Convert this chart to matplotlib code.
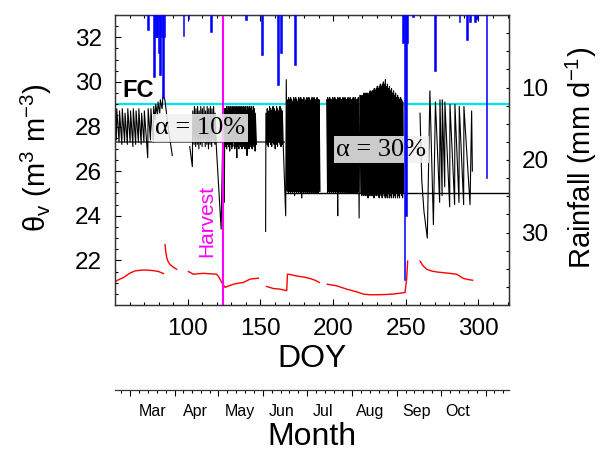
import numpy as np
import matplotlib
matplotlib.use("Agg")
import matplotlib.pyplot as plt

plt.rcParams['font.family'] = ['Liberation Sans', 'DejaVu Sans']
plt.rcParams['mathtext.fontset'] = 'custom'
plt.rcParams['mathtext.rm'] = 'Liberation Sans'
plt.rcParams['mathtext.it'] = 'Liberation Sans:italic'
plt.rcParams['mathtext.default'] = 'rm'

# ---------------- data ----------------
# soil moisture (black) - segments separated by gaps
black_A = [(50.0, 28.1), (50.9, 27.4), (51.2, 28.8), (52.8, 27.3), (53.1, 28.7), (54.7, 27.2), (55.0, 28.8),
           (56.6, 27.3), (56.9, 28.6), (58.5, 27.2), (58.8, 28.8), (60.4, 27.3), (60.7, 28.7), (62.3, 27.1),
           (62.6, 28.8), (64.2, 27.2), (64.5, 28.7), (66.1, 27.3), (66.4, 28.8), (68.0, 27.2), (68.3, 28.6),
           (69.9, 27.3), (70.2, 28.7), (71.4, 27.6), (72.5, 26.6), (72.8, 28.8), (74.4, 27.4), (74.7, 28.8),
           (76.3, 27.3), (76.6, 28.9), (77.6, 28.3), (78.0, 29.0), (79.2, 28.5), (79.6, 29.1), (80.8, 28.6),
           (81.2, 29.2), (82.4, 28.8), (83.0, 29.4), (84.3, 29.2), (86.5, 28.0), (89.4, 26.7)]
black_C = [(101.4, 27.1), (103.2, 26.2), (103.5, 28.7), (104.4, 27.2), (104.6, 28.9), (105.5, 27.1), (105.7, 28.8),
           (106.6, 27.2), (106.8, 28.9), (107.7, 27.0), (107.9, 28.7), (108.8, 27.2), (109.0, 28.9), (109.9, 27.1),
           (110.1, 28.8), (111.0, 27.3), (111.2, 28.9), (112.1, 27.1), (112.3, 28.7), (113.2, 27.2), (113.4, 28.9),
           (114.3, 27.0), (114.5, 28.8), (115.4, 27.2), (115.6, 28.9), (116.5, 27.1), (116.7, 28.8), (117.6, 27.3),
           (117.8, 28.9), (118.7, 27.2), (118.9, 28.6), (119.6, 27.2), (123.0, 23.4), (124.1, 27.4), (124.4, 28.6),
           (125.2, 24.6), (125.5, 28.8),
           (126.1, 27.1), (126.2, 28.8), (126.8, 27.0), (126.9, 28.9), (127.5, 27.2), (127.6, 28.7), (128.2, 27.1),
           (128.3, 28.9), (128.9, 26.9), (129.0, 28.8), (129.6, 27.2), (129.7, 28.9), (130.3, 27.0), (130.4, 28.7),
           (131.0, 27.1), (131.1, 28.9), (131.7, 27.3), (131.8, 28.8), (132.4, 27.0), (132.5, 28.9), (133.1, 27.1),
           (133.2, 28.7), (133.8, 26.6), (133.9, 28.9), (134.5, 27.1), (134.6, 28.8), (135.2, 27.0), (135.3, 28.9),
           (135.9, 27.2), (136.0, 28.8), (136.6, 27.1), (136.7, 28.9), (137.3, 27.0), (137.4, 28.7), (138.0, 27.2),
           (138.1, 28.9), (138.7, 27.1), (138.8, 28.8), (139.4, 27.0), (139.5, 28.9), (140.1, 27.2), (140.2, 28.7),
           (140.8, 26.7), (140.9, 28.9), (141.5, 27.1), (141.6, 28.8), (142.2, 27.0), (142.3, 28.9), (142.9, 27.2),
           (143.0, 28.8), (143.6, 27.1), (143.7, 28.9), (144.3, 27.0), (144.4, 28.7), (145.0, 27.2), (145.1, 28.9),
           (145.7, 27.1), (145.8, 28.8), (146.4, 26.9), (146.5, 28.6), (147.3, 27.2)]
black_G = [(153.6, 23.3), (153.8, 28.6), (154.6, 27.2), (154.7, 28.8), (155.4, 27.1), (155.5, 28.7), (156.2, 27.3),
           (156.3, 28.9), (157.0, 27.2), (157.1, 28.8), (157.8, 27.1), (157.9, 28.7), (158.6, 27.3), (158.7, 28.9),
           (159.4, 27.2), (159.5, 28.8), (160.2, 27.0), (160.3, 28.7), (161.0, 27.2), (161.1, 28.9), (161.8, 27.1),
           (161.9, 28.8), (162.6, 27.3), (162.7, 28.7), (163.4, 27.2), (163.5, 28.9), (164.2, 27.1), (164.3, 28.8),
           (165.0, 27.2), (165.1, 28.7), (165.7, 27.2), (167.4, 24.0), (167.8, 30.1), (168.5, 25.1),
           (168.6, 29.2), (169.3, 25.0), (169.4, 29.3), (170.0, 25.1), (170.1, 29.2), (170.7, 25.0), (170.8, 29.3),
           (171.4, 25.1), (171.5, 29.2), (172.1, 25.0), (172.2, 29.1), (172.8, 25.1), (172.9, 29.3), (173.5, 24.9),
           (173.6, 29.2), (174.2, 25.1), (174.3, 29.3), (174.9, 25.0), (175.0, 29.2), (175.6, 25.1), (175.7, 29.1),
           (176.3, 25.0), (176.4, 29.3), (177.0, 25.1), (177.1, 29.2), (177.7, 25.0), (177.8, 29.3), (178.4, 24.8),
           (178.5, 29.2), (179.1, 25.1), (179.2, 29.2), (179.8, 25.0), (179.9, 29.3), (180.5, 25.1), (180.6, 29.1),
           (181.2, 25.0), (181.3, 29.2), (181.9, 25.1), (182.0, 29.3), (182.6, 25.0), (182.7, 29.2), (183.3, 25.1),
           (183.4, 29.3), (184.0, 25.0), (184.1, 29.2), (184.7, 25.1), (184.8, 29.1), (185.4, 25.0), (185.5, 29.3),
           (186.1, 25.1), (186.2, 29.2), (186.8, 25.0), (186.9, 29.3), (187.5, 25.1), (187.6, 29.2), (188.2, 25.0),
           (188.3, 29.2), (188.9, 25.1), (189.0, 29.3), (189.6, 25.0), (189.7, 29.2), (190.3, 25.1), (190.4, 29.2),
           (191.0, 25.1)]
black_J = [(195.6, 29.2), (196.2, 25.0), (196.3, 29.3), (196.9, 25.1), (197.0, 29.2), (197.6, 25.0), (197.7, 29.3),
           (198.3, 25.1), (198.4, 29.2), (199.0, 25.0), (199.1, 29.2), (199.7, 25.1), (199.8, 29.3), (200.4, 25.0),
           (200.5, 29.2), (201.1, 25.1), (201.2, 29.3), (201.8, 25.0), (201.9, 29.2), (202.5, 25.1), (202.6, 29.2),
           (203.2, 24.0), (203.3, 29.3), (203.9, 25.0), (204.0, 29.2), (204.6, 25.1), (204.7, 29.3), (205.3, 25.0),
           (205.4, 29.2), (206.0, 25.1), (206.1, 29.2), (206.7, 25.0), (206.8, 29.3), (207.4, 25.1), (207.5, 29.2),
           (208.1, 25.0), (208.2, 29.3), (208.8, 25.1), (208.9, 29.2), (209.5, 25.0), (209.6, 29.2), (210.2, 25.1),
           (210.3, 29.3), (210.9, 25.0), (211.0, 29.2), (211.6, 25.1), (211.7, 29.3), (212.3, 25.0), (212.4, 29.2),
           (213.0, 25.1), (213.1, 29.2), (213.7, 25.0), (213.8, 29.3), (214.4, 25.1), (214.5, 29.2), (215.1, 25.0),
           (215.2, 29.3), (215.8, 25.1), (215.9, 29.2), (216.5, 25.0), (216.6, 29.2), (217.2, 25.1), (217.3, 29.3),
           (217.9, 23.9),
           (218.4, 29.4), (219.1, 25.0), (219.2, 29.4), (219.8, 24.9), (219.9, 29.3), (220.5, 25.0), (220.6, 29.4),
           (221.2, 24.9), (221.3, 29.5), (221.9, 25.0), (222.0, 29.4), (222.6, 24.9), (222.7, 29.5), (223.3, 25.0),
           (223.4, 29.5), (224.0, 24.8), (224.1, 29.4), (224.7, 25.0), (224.8, 29.5), (225.4, 24.9), (225.5, 29.6),
           (226.1, 25.0), (226.2, 29.5), (226.8, 24.9), (226.9, 29.6), (227.5, 25.0), (227.6, 29.6), (228.2, 24.8),
           (228.3, 29.7), (228.9, 25.0), (229.0, 29.6), (229.6, 24.9), (229.7, 29.7), (230.3, 25.0), (230.4, 29.8),
           (231.0, 24.9), (231.1, 29.7), (231.7, 24.8), (231.8, 29.8), (232.4, 25.0), (232.5, 29.9), (233.1, 24.9),
           (233.2, 29.8), (233.8, 24.8), (233.9, 29.9), (234.5, 25.0), (234.6, 30.0), (235.2, 24.9), (235.3, 29.9),
           (235.9, 24.8), (236.0, 30.1), (236.6, 24.9), (236.7, 29.8), (237.3, 24.8), (237.4, 29.9), (238.0, 25.0),
           (238.1, 29.7), (238.7, 24.8), (238.8, 29.8), (239.4, 24.9), (239.5, 29.6), (240.1, 24.8), (240.2, 29.7),
           (240.8, 25.0), (240.9, 29.5), (241.5, 24.8), (241.6, 29.6), (242.2, 24.9), (242.3, 29.4), (242.9, 24.8),
           (243.0, 29.5), (243.6, 25.0), (243.7, 29.3), (244.3, 24.8), (244.4, 29.4), (245.0, 24.9), (245.1, 29.3),
           (245.7, 24.8), (245.8, 29.2), (246.4, 25.0), (246.5, 29.3), (247.1, 24.9), (247.2, 29.2), (247.8, 24.8),
           (247.9, 29.1), (248.4, 25.0)]
black_L = [(259.8, 28.6), (261.0, 25.6), (262.5, 24.2), (264.8, 23.0), (266.6, 29.6), (269.0, 23.6), (270.4, 29.1),
           (273.3, 24.6), (273.5, 29.2), (275.0, 24.9), (275.1, 29.2), (276.8, 25.3), (276.9, 29.1), (280.2, 24.4),
           (280.4, 29.0), (283.6, 24.5), (283.8, 29.0), (286.6, 24.6), (286.8, 28.9), (289.8, 24.5), (290.0, 28.9),
           (294.2, 24.5), (295.3, 28.7), (295.8, 26.0)]

# soil moisture (red)
red_A = [(50.0, 21.04), (52.0, 21.12), (55.8, 21.23), (60.0, 21.42), (63.8, 21.53), (69.5, 21.57), (73.0, 21.56),
         (76.4, 21.54), (80.0, 21.50), (83.3, 21.41)]
red_B = [(84.4, 22.71), (85.0, 22.35), (85.6, 22.12), (86.5, 21.95), (87.8, 21.82), (90.0, 21.70), (92.4, 21.60)]
red_C = [(100.5, 21.50), (102.0, 21.45), (103.9, 21.38), (107.0, 21.40), (110.8, 21.42), (115.0, 21.40),
         (119.9, 21.38), (121.5, 21.25), (123.4, 21.01), (125.7, 20.79), (128.0, 20.85), (131.4, 20.93),
         (135.0, 20.98), (138.3, 21.01), (142.9, 21.16), (145.5, 21.18), (148.6, 21.20)]
red_D = [(154.3, 20.83), (158.9, 20.74), (163.5, 20.71), (168.1, 20.64), (168.6, 21.38), (169.5, 21.38),
         (175.0, 21.30), (180.0, 21.25), (184.1, 21.19), (188.0, 21.10), (190.6, 21.01)]
red_E = [(196.1, 20.93), (202.5, 20.86), (209.4, 20.71), (216.2, 20.59), (220.8, 20.49), (225.0, 20.46),
         (230.0, 20.46), (236.0, 20.47), (241.4, 20.49), (249.5, 20.56), (250.6, 21.16), (251.3, 21.97)]
red_F = [(259.8, 21.97), (262.0, 21.75), (264.4, 21.60), (268.0, 21.52), (271.3, 21.48), (275.8, 21.45),
         (280.0, 21.42), (285.0, 21.38), (287.0, 21.30), (289.6, 21.19), (293.0, 21.14), (296.0, 21.11)]

# rainfall
rain_doy = [72.5, 77, 78, 79, 80, 81, 82, 83, 84, 97, 100.5, 116, 140, 151, 162, 164, 174,
            248, 249, 250, 251, 255, 270, 287, 292, 294, 297.5, 299, 305.5]
rain_mm = [2.1, 8.5, 3.0, 3.0, 5.3, 8.3, 3.0, 11.5, 3.0, 2.9, 0.6, 2.3, 0.7, 5.5, 9.7, 5.3, 6.9,
           3.8, 36.5, 27.7, 3.8, 0.3, 7.7, 0.9, 3.4, 0.9, 0.9, 0.5, 22.5]

fc_value = 29.0
thr10_value = 27.3
thr10_span = (50, 167)
thr30_value = 25.0
thr30_span = (167, 321)
harvest_doy = 124.5

xticks = [100, 150, 200, 250, 300]
yticks = [22, 24, 26, 28, 30, 32]
rticks = [10, 20, 30]
month_starts = [32, 60, 91, 121, 152, 182, 213, 244, 274, 305, 335]
month_names = ['Mar', 'Apr', 'May', 'Jun', 'Jul', 'Aug', 'Sep', 'Oct']
month_label_pos = [75.9, 105.0, 136.0, 164.6, 193.3, 225.4, 257.5, 285.4]


def join(*segs):
    xs, ys = [], []
    for s in segs:
        xs += [p[0] for p in s] + [np.nan]
        ys += [p[1] for p in s] + [np.nan]
    return np.array(xs), np.array(ys)


# ---------------- figure ----------------
W, H = 600, 453
fig = plt.figure(figsize=(W / 100, H / 100), dpi=100)
L, R, T, B = 115, 509, 15, 305
ax = fig.add_axes([L / W, 1 - B / H, (R - L) / W, (B - T) / H])
ax.set_xlim(50, 321)
ax.set_ylim(20.0, 33.0)

ax.axhline(fc_value, color='#00e5ee', lw=1.6, zorder=1)
ax.hlines(thr10_value, *thr10_span, color='#505050', lw=1.2, zorder=2)
ax.hlines(thr30_value, *thr30_span, color='black', lw=1.0, zorder=2)

bx, by = join(black_A, black_C, black_G, black_J, black_L)
ax.plot(bx, by, color='black', lw=0.8, zorder=3)
rx, ry = join(red_A, red_B, red_C, red_D, red_E, red_F)
ax.plot(rx, ry, color='red', lw=1.0, zorder=3)

ax.axvline(harvest_doy, color='#ff00ff', lw=1.5, zorder=4)
ax.text(113.4, 23.76, 'Harvest', color='#ff00ff', rotation=90, ha='center', va='center', fontsize=15)
ax.text(55.3, 29.1, 'FC', fontsize=17, fontweight='bold', ha='left', va='bottom')
box = dict(boxstyle='square,pad=0.1', facecolor='#f0f0f0', edgecolor='none', alpha=0.85)
ax.text(108.6, 27.93, 'α = 10%', family='Liberation Serif', fontsize=19, ha='center', va='center',
        bbox=box, zorder=5)
ax.text(233.2, 26.97, 'α = 30%', family='Liberation Serif', fontsize=19, ha='center', va='center',
        bbox=box, zorder=5)

ax.set_xticks(xticks)
ax.set_xticks(np.arange(60, 321, 10), minor=True)
ax.set_yticks(yticks)
ax.set_yticks(np.arange(20.5, 33.01, 0.5), minor=True)
ax.tick_params(which='both', direction='in', top=True, right=False, labelsize=17.5, pad=9.5)
ax.tick_params(which='major', length=4.5, width=0.8)
ax.tick_params(which='minor', length=2.3, width=0.8)
for s in ax.spines.values():
    s.set_linewidth(0.9)
    s.set_color('#333333')

ax2 = ax.twinx()
ax2.set_ylim(40, 0)
ax2.bar(rain_doy, rain_mm, width=1.1, color='#0000ff', edgecolor='#0000ff', linewidth=0.4, zorder=3)
ax2.set_yticks(rticks)
ax2.set_yticks(np.arange(2.5, 40, 2.5), minor=True)
ax2.tick_params(which='both', direction='in', length=2.5, width=0.8, labelsize=17.5, pad=9)
for s in ax2.spines.values():
    s.set_linewidth(0.9)
    s.set_color('#333333')

# month axis
ax3 = fig.add_axes([L / W, 1 - 390 / H, (R - L) / W, 0.0001])
ax3.set_xlim(50, 321)
ax3.patch.set_visible(False)
for k in ['left', 'right', 'top']:
    ax3.spines[k].set_visible(False)
ax3.spines['bottom'].set_linewidth(0.9)
ax3.spines['bottom'].set_color('#333333')
ax3.set_yticks([])
ax3.set_xticks([m for m in month_starts if 50 <= m <= 321])
minor_m = []
for a, b in zip(month_starts[:-1], month_starts[1:]):
    for k in range(1, 5):
        v = a + (b - a) * k / 5
        if 50 <= v <= 321:
            minor_m.append(v)
ax3.set_xticks(minor_m, minor=True)
ax3.tick_params(which='both', direction='out', labelbottom=False)
ax3.tick_params(which='major', length=4.0, width=0.8)
ax3.tick_params(which='minor', length=2.0, width=0.8)
for name, pos in zip(month_names, month_label_pos):
    ax3.annotate(name, xy=(pos, 0), xycoords=('data', 'axes fraction'), xytext=(0, -10),
                 textcoords='offset points', ha='center', va='top', fontsize=11.5)

fig.text(36 / W, 1 - 158 / H, r'$\theta_v$ (m$^3$ m$^{-3}$)', rotation=90, ha='center', va='center',
         fontsize=21)
fig.text(581 / W, 1 - 158 / H, r'Rainfall (mm d$^{-1}$)', rotation=90, ha='center', va='center',
         fontsize=21)
fig.text(312 / W, 1 - 359 / H, 'DOY', ha='center', va='center', fontsize=23)
fig.text(312 / W, 1 - 437 / H, 'Month', ha='center', va='center', fontsize=23)

fig.savefig('out.png', dpi=100)
